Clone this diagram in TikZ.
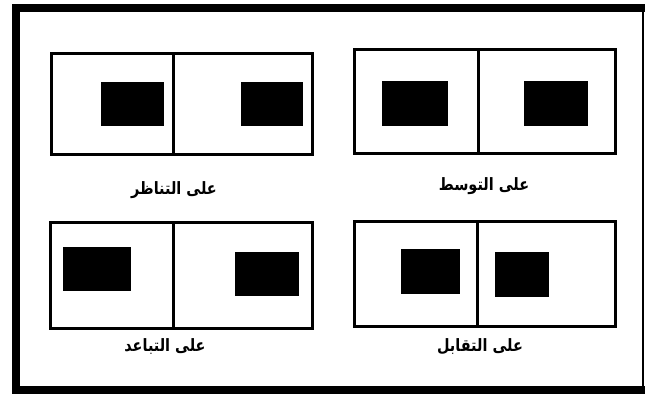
\documentclass[tikz,border=0pt]{standalone}
\usepackage{fontspec}
\usetikzlibrary{positioning}
\TeXXeTstate=1
\newfontfamily\arabicfont[Script=Arabic,FakeStretch=0.85]{DejaVu Sans}

\begin{document}
\begin{tikzpicture}[x=1pt,y=-1pt,
  frame/.style={fill=black},
  panel/.style={draw=black,line width=3pt},
  blk/.style={fill=black},
  lbl/.style={font=\arabicfont\bfseries\fontsize{17}{20}\selectfont,inner sep=0pt}
]
\useasboundingbox (0,0) rectangle (645,394);
% outer frame
\fill[frame] (12,4) rectangle (645,12);
\fill[frame] (12,4) rectangle (20,394);
\fill[frame] (12,386) rectangle (645,394);
\draw[line width=1.5pt] (643,4) -- (643,394);
% top left
\draw[panel] (51,53) rectangle (312,154); \draw[panel] (173,53) -- (173,154);
\fill[blk] (101,82) rectangle (164,126); \fill[blk] (241,82) rectangle (303,126);
\node[lbl] (tl) at (174,190) {\beginR على التناظر\endR};
% top right
\draw[panel] (354,49) rectangle (615,153); \draw[panel] (478,49) -- (478,153);
\fill[blk] (382,81) rectangle (448,126); \fill[blk] (524,81) rectangle (588,126);
\node[lbl] (tr) at (484,186) {\beginR على التوسط\endR};
% bottom left
\draw[panel] (50,222) rectangle (312,328); \draw[panel] (173,222) -- (173,328);
\fill[blk] (63,247) rectangle (131,291); \fill[blk] (235,252) rectangle (299,296);
\node[lbl] (bl) at (165,347) {\beginR على التباعد\endR};
% bottom right
\draw[panel] (354,221) rectangle (615,326); \draw[panel] (477,221) -- (477,326);
\fill[blk] (401,249) rectangle (460,294); \fill[blk] (495,252) rectangle (549,297);
\node[lbl] (br) at (480,347) {\beginR على التقابل\endR};
\end{tikzpicture}
\end{document}
